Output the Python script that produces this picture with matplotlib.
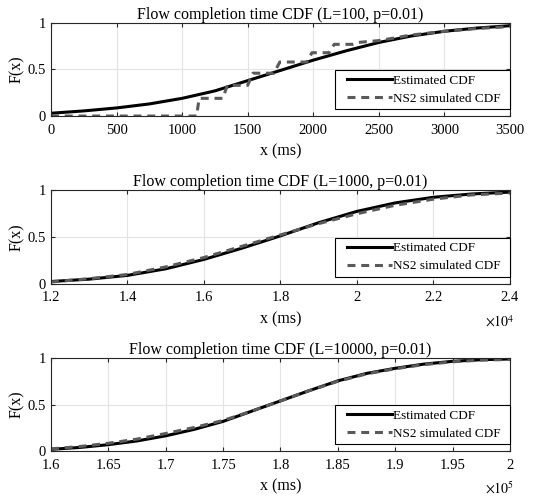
import matplotlib
matplotlib.use("Agg")
import matplotlib.pyplot as plt
from matplotlib.lines import Line2D
from matplotlib.legend_handler import HandlerLine2D

plt.rcParams['font.family'] = ['Liberation Serif', 'DejaVu Serif']
plt.rcParams['mathtext.fontset'] = 'stix'

# L=100, x in ms
est1_x = [0, 250, 500, 750, 1000, 1250, 1500, 1750, 2000, 2250, 2500, 2750, 3000, 3250, 3500]
est1_y = [0.03, 0.055, 0.087, 0.13, 0.19, 0.27, 0.38, 0.49, 0.60, 0.70, 0.79, 0.86, 0.91, 0.945, 0.97]
ns1_x = [0, 1110, 1130, 1310, 1345, 1500, 1540, 1700, 1745, 1950, 1990, 2120, 2160, 2300,
         2340, 2500, 2750, 3000, 3250, 3500]
ns1_y = [0.0, 0.0, 0.19, 0.19, 0.33, 0.33, 0.46, 0.46, 0.58, 0.58, 0.68, 0.68, 0.77, 0.77,
         0.79, 0.81, 0.87, 0.91, 0.94, 0.96]

# L=1000
est2_x = [12000, 13000, 14000, 15000, 16000, 17000, 18000, 19000, 20000, 21000, 22000, 23000, 24000]
est2_y = [0.025, 0.05, 0.09, 0.16, 0.26, 0.38, 0.51, 0.65, 0.77, 0.86, 0.92, 0.955, 0.975]
ns2_x = [12000, 13000, 14000, 15000, 16000, 17000, 18000, 19000, 20000, 21000, 22000, 23000, 24000]
ns2_y = [0.02, 0.055, 0.10, 0.18, 0.28, 0.40, 0.52, 0.64, 0.745, 0.835, 0.90, 0.945, 0.965]

# L=10000
est3_x = [160000, 162500, 165000, 167500, 170000, 172500, 175000, 177500, 180000,
          182500, 185000, 187500, 190000, 192500, 195000, 197500, 200000]
est3_y = [0.02, 0.04, 0.07, 0.11, 0.165, 0.235, 0.32, 0.43, 0.54, 0.65, 0.755, 0.835,
          0.89, 0.935, 0.965, 0.982, 0.99]
ns3_x = est3_x
ns3_y = [0.025, 0.05, 0.085, 0.13, 0.19, 0.255, 0.33, 0.43, 0.54, 0.65, 0.75, 0.83,
         0.885, 0.93, 0.96, 0.978, 0.985]

titles = ['Flow completion time CDF (L=100, p=0.01)',
          'Flow completion time CDF (L=1000, p=0.01)',
          'Flow completion time CDF (L=10000, p=0.01)']
xticks = [[0, 500, 1000, 1500, 2000, 2500, 3000, 3500],
          [12000, 14000, 16000, 18000, 20000, 22000, 24000],
          [160000, 165000, 170000, 175000, 180000, 185000, 190000, 195000, 200000]]
scales = [1, 1e4, 1e5]
offsets = [None, r'$\times10^{4}$', r'$\times10^{5}$']

data = [(est1_x, est1_y, ns1_x, ns1_y),
        (est2_x, est2_y, ns2_x, ns2_y),
        (est3_x, est3_y, ns3_x, ns3_y)]

boxes = [[0.0948, 0.767, 0.853, 0.187],
         [0.0948, 0.430, 0.853, 0.189],
         [0.0948, 0.094, 0.853, 0.187]]

fig = plt.figure(figsize=(5.38, 4.98), dpi=100)

for i in range(3):
    ax = fig.add_axes(boxes[i])
    ex, ey, nx, ny = data[i]
    ax.plot(ex, ey, color='black', lw=2.2, label='Estimated CDF')
    ax.plot(nx, ny, color='#5a5a5a', lw=2.2, ls=(0, (2.6, 1.9)), label='NS2 simulated CDF')
    ax.set_xlim(xticks[i][0], xticks[i][-1])
    ax.set_ylim(0, 1)
    ax.set_xticks(xticks[i])
    ax.set_xticklabels(['%g' % (v / scales[i]) for v in xticks[i]])
    ax.set_yticks([0, 0.5, 1])
    ax.set_yticklabels(['0', '0.5', '1'])
    ax.grid(True, color='#e3e3e3', lw=0.8)
    ax.set_axisbelow(True)
    ax.tick_params(direction='in', top=True, right=True, length=3, width=0.8,
                   color='#262626', labelsize=10.5)
    ax.tick_params(axis='x', pad=5.5)
    for s in ax.spines.values():
        s.set_color('#262626')
        s.set_linewidth(0.8)
    ax.set_title(titles[i], fontsize=11.5, pad=3)
    ax.set_xlabel('x (ms)', fontsize=11.5, labelpad=5)
    ax.set_ylabel('F(x)', fontsize=11.5, labelpad=2)
    if offsets[i]:
        ax.text(1.01, -0.40, offsets[i], transform=ax.transAxes, ha='right', va='center',
                fontsize=10)
    leg = ax.legend(loc='lower left', bbox_to_anchor=(0.619, 0.075, 0.381, 0.5),
                    mode='expand', borderaxespad=0, fontsize=9.5, handlelength=3.95,
                    handletextpad=0.1, fancybox=False, framealpha=1, edgecolor='black',
                    borderpad=0.33, labelspacing=0.44,
                    handler_map={Line2D: HandlerLine2D(xpad=0.6)})
    leg.get_frame().set_linewidth(0.8)

fig.savefig('out.png', dpi=100)
